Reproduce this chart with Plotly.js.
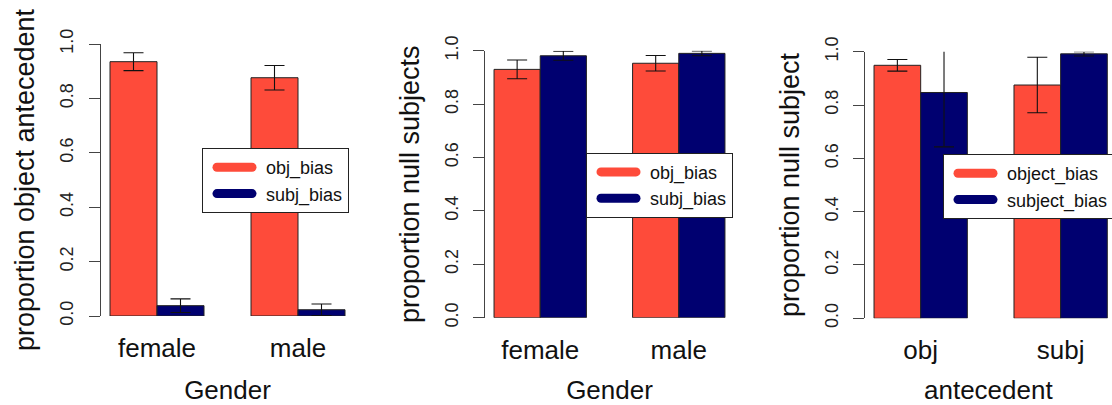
<!DOCTYPE html>
<html>
<head>
<meta charset="utf-8">
<script src="https://cdn.plot.ly/plotly-3.0.1.min.js"></script>
<style>
html,body{margin:0;padding:0;background:#fff;}
#chart{width:1112px;height:405px;}
.legendlines path{stroke-linecap:round !important; stroke-dasharray:35px 300px !important;}
</style>
</head>
<body>
<div id="chart"></div>
<script>
// ---- data ----
const gender = ['female', 'male'];
const antecedent = ['obj', 'subj'];
const seriesNamesA = ['obj_bias', 'subj_bias'];
const seriesNamesB = ['object_bias', 'subject_bias'];

// panel 1: proportion object antecedent by Gender
const p1Obj = [0.935, 0.876];
const p1ObjErr = [0.033, 0.045];
const p1Subj = [0.038, 0.023];
const p1SubjErr = [0.025, 0.021];

// panel 2: proportion null subjects by Gender
const p2Obj = [0.930, 0.953];
const p2ObjErr = [0.035, 0.029];
const p2Subj = [0.981, 0.990];
const p2SubjErr = [0.017, 0.009];

// panel 3: proportion null subject by antecedent
const p3Obj = [0.949, 0.875];
const p3ObjErr = [0.022, 0.104];
const p3Subj = [0.847, 0.992];
const p3SubjErr = [0.204, 0.008];

const yTicks = [0, 0.2, 0.4, 0.6, 0.8, 1.0];

// ---- styling ----
const RED = '#fe4b3a';
const NAVY = '#000070';
const FONT = 'Liberation Sans, Arial, Helvetica, sans-serif';

function barTrace(x, y, err, color, name, xa, ya) {
  return {
    type: 'bar', x: x, y: y, name: name, showlegend: false,
    xaxis: xa, yaxis: ya,
    marker: {color: color, line: {color: '#222', width: 1}},
    error_y: {type: 'data', array: err, visible: true, color: '#111', thickness: 1.1, width: 10},
    cliponaxis: true,
    hoverinfo: 'x+y'
  };
}
function legendTrace(name, color, xa, ya, leg) {
  return {
    type: 'scatter', mode: 'lines', x: [null], y: [null], name: name,
    xaxis: xa, yaxis: ya, legend: leg,
    line: {color: color, width: 9}, hoverinfo: 'skip'
  };
}

const traces = [
  barTrace(gender, p1Obj, p1ObjErr, RED, seriesNamesA[0], 'x', 'y'),
  barTrace(gender, p1Subj, p1SubjErr, NAVY, seriesNamesA[1], 'x', 'y'),
  barTrace(gender, p2Obj, p2ObjErr, RED, seriesNamesA[0], 'x2', 'y2'),
  barTrace(gender, p2Subj, p2SubjErr, NAVY, seriesNamesA[1], 'x2', 'y2'),
  barTrace(antecedent, p3Obj, p3ObjErr, RED, seriesNamesB[0], 'x3', 'y3'),
  barTrace(antecedent, p3Subj, p3SubjErr, NAVY, seriesNamesB[1], 'x3', 'y3'),
  legendTrace(seriesNamesA[0], RED, 'x', 'y', 'legend'),
  legendTrace(seriesNamesA[1], NAVY, 'x', 'y', 'legend'),
  legendTrace(seriesNamesA[0], RED, 'x2', 'y2', 'legend2'),
  legendTrace(seriesNamesA[1], NAVY, 'x2', 'y2', 'legend2'),
  legendTrace(seriesNamesB[0], RED, 'x3', 'y3', 'legend3'),
  legendTrace(seriesNamesB[1], NAVY, 'x3', 'y3', 'legend3')
];

const W = 1112, H = 405;
function xdom(l, r) { return [l / W, Math.min(r / W, 1)]; }
function ydom(bottomPx, topPx) { return [(H - bottomPx) / H, (H - topPx) / H]; }

function xAxis(dom, range, anchor, title) {
  return {
    domain: dom, range: range, anchor: anchor, type: 'category',
    showline: false, showgrid: false, zeroline: false, ticks: '',
    tickfont: {size: 26, color: '#111', family: FONT},
    ticklabelstandoff: 14,
    title: {text: title, font: {size: 26, color: '#111', family: FONT}, standoff: 18},
    fixedrange: true
  };
}
function yAxis(dom, anchor, title) {
  return {
    domain: dom, range: [0, 1], anchor: anchor,
    showline: true, linecolor: '#444', linewidth: 1,
    showgrid: false, zeroline: false,
    ticks: 'outside', ticklen: 11, tickcolor: '#444', tickwidth: 1,
    tickvals: yTicks, tickformat: '.1f', tickangle: -90,
    tickfont: {size: 18, color: '#222', family: FONT},
    ticklabelstandoff: 8,
    title: {text: title, font: {size: 27, color: '#111', family: FONT}, standoff: 14},
    fixedrange: true
  };
}
function legendCfg(xPx, yPx) {
  return {
    x: xPx / W, y: (H - yPx) / H, xanchor: 'left', yanchor: 'top',
    xref: 'paper', yref: 'paper',
    bgcolor: '#fff', bordercolor: '#222', borderwidth: 1,
    font: {size: 18, color: '#111', family: FONT},
    itemwidth: 44, indentation: 9, tracegroupgap: 0
  };
}

const layout = {
  width: W, height: H,
  margin: {l: 0, r: 0, t: 0, b: 0, autoexpand: false},
  paper_bgcolor: '#fff', plot_bgcolor: '#fff',
  font: {family: FONT},
  barmode: 'group', bargap: 1 / 3, bargroupgap: 0,
  showlegend: true,
  xaxis: xAxis(xdom(100.6, 354.4), [-0.4, 1.4], 'y', 'Gender'),
  yaxis: yAxis(ydom(316, 44), 'x', 'proportion object antecedent'),
  xaxis2: xAxis(xdom(484.8, 734.2), [-0.4, 1.4], 'y2', 'Gender'),
  yaxis2: yAxis(ydom(317.7, 50.7), 'x2', 'proportion null subjects'),
  xaxis3: xAxis(xdom(864.7, 1112), [-0.4, 1.367], 'y3', 'antecedent'),
  yaxis3: yAxis(ydom(318.3, 51.7), 'x3', 'proportion null subject'),
  legend: legendCfg(202, 148),
  legend2: legendCfg(586, 152.7),
  legend3: legendCfg(943, 154)
};

Plotly.newPlot('chart', traces, layout, {displayModeBar: false, staticPlot: true});
</script>
</body>
</html>
